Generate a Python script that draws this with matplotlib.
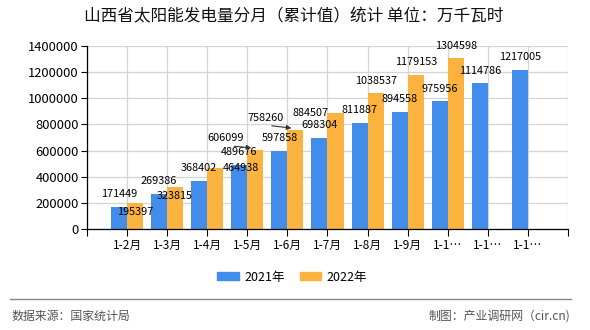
import numpy as np
import matplotlib
matplotlib.use('Agg')
import matplotlib.pyplot as plt
from matplotlib.patches import Patch
from matplotlib.lines import Line2D
from matplotlib.ticker import FuncFormatter

plt.rcParams['font.family'] = ['Noto Sans CJK SC', 'DejaVu Sans']

title = '山西省太阳能发电量分月（累计值）统计 单位：万千瓦时'
tick_labels = ['1-2月', '1-3月', '1-4月', '1-5月', '1-6月', '1-7月', '1-8月', '1-9月',
               '1-1…', '1-1…', '1-1…']
v2021 = [171449, 269386, 368402, 489676, 597858, 698304, 811887, 894558,
         975956, 1114786, 1217005]
v2022 = [195397, 323815, 464938, 606099, 758260, 884507, 1038537, 1179153, 1304598]
series_names = ['2021年', '2022年']
source_text = '数据来源：国家统计局'
credit_text = '制图：产业调研网（cir.cn)'

blue = '#428CEB'
orange = '#FBB23E'

# label tweaks for the crowded 2022 labels (pixels from bar top, arrow flag)
label_shift = {0: (0, -8.5, False), 1: (0, -9, False), 2: (26, 0, False),
               3: (-26, 9.5, True), 4: (-26, 10, True), 5: (-25, 0.7, False)}

fig = plt.figure(figsize=(5.9, 3.3), dpi=100)
ax = fig.add_axes([87 / 590, 1 - 229 / 330, (568 - 87) / 590, (229 - 46) / 330])

x = np.arange(len(v2021))
x2 = np.arange(len(v2022))
w = 0.4
ax.bar(x - w / 2, v2021, w, color=blue, zorder=2)
ax.bar(x2 + w / 2, v2022, w, color=orange, zorder=2)

ax.set_xlim(-1, len(v2021))
ax.set_ylim(0, 1400000)
ax.set_yticks(np.arange(0, 1400001, 200000))
ax.yaxis.set_major_formatter(FuncFormatter(lambda v, p: '%d' % v))
ax.set_xticks(np.arange(-1, len(v2021) + 1))
ax.set_xticklabels([''] + tick_labels + [''], fontsize=8.5)
ax.tick_params(axis='y', labelsize=9.3, length=4, width=0.8, pad=2)
ax.tick_params(axis='x', length=5, width=0.8, pad=2)
ax.grid(True, color='#d4d4d4', lw=0.9, zorder=0)
ax.set_axisbelow(True)
for s in ['top', 'right']:
    ax.spines[s].set_visible(False)
for s in ['left', 'bottom']:
    ax.spines[s].set_color('black')
    ax.spines[s].set_linewidth(0.9)

lab_fs = 7.8
for xi, v in zip(x, v2021):
    ax.annotate(str(v), (xi - w / 2, v), xytext=(0, 12.7), textcoords='offset pixels',
                ha='center', va='center', fontsize=lab_fs, zorder=4)
for xi, v in zip(x2, v2022):
    dx, dy, arrow = label_shift.get(xi, (0, 12.7, False))
    if arrow:
        ax.annotate(str(v), (xi + w / 2 - 0.1, v + 14000), xytext=(dx, dy),
                    textcoords='offset pixels', ha='center', va='center',
                    fontsize=lab_fs, zorder=4,
                    arrowprops=dict(arrowstyle='-|>', color='#333333', lw=0.8,
                                    shrinkA=0, shrinkB=0, relpos=(0, 0),
                                    mutation_scale=7))
    else:
        ax.annotate(str(v), (xi + w / 2, v), xytext=(dx, dy), textcoords='offset pixels',
                    ha='center', va='center', fontsize=lab_fs, zorder=4)

fig.text(294 / 590, 1 - 17 / 330, title, ha='center', va='center', fontsize=12,
         color='#111111')

handles = [Patch(color=blue), Patch(color=orange)]
fig.legend(handles, series_names, loc='center', bbox_to_anchor=(292 / 590, 1 - 277 / 330),
           ncol=2, frameon=False, fontsize=9, handlelength=1.75, handleheight=0.65,
           handletextpad=0.4, columnspacing=1.2)

fig.add_artist(Line2D([10 / 590, 571 / 590], [1 - 298.7 / 330] * 2, color='#888888', lw=1))
fig.text(11.5 / 590, 1 - 316 / 330, source_text, ha='left', va='center', fontsize=8.6,
         color='#555555')
fig.text(570 / 590, 1 - 316 / 330, credit_text, ha='right', va='center', fontsize=8.6,
         color='#555555')

fig.savefig('out.png', dpi=100)
